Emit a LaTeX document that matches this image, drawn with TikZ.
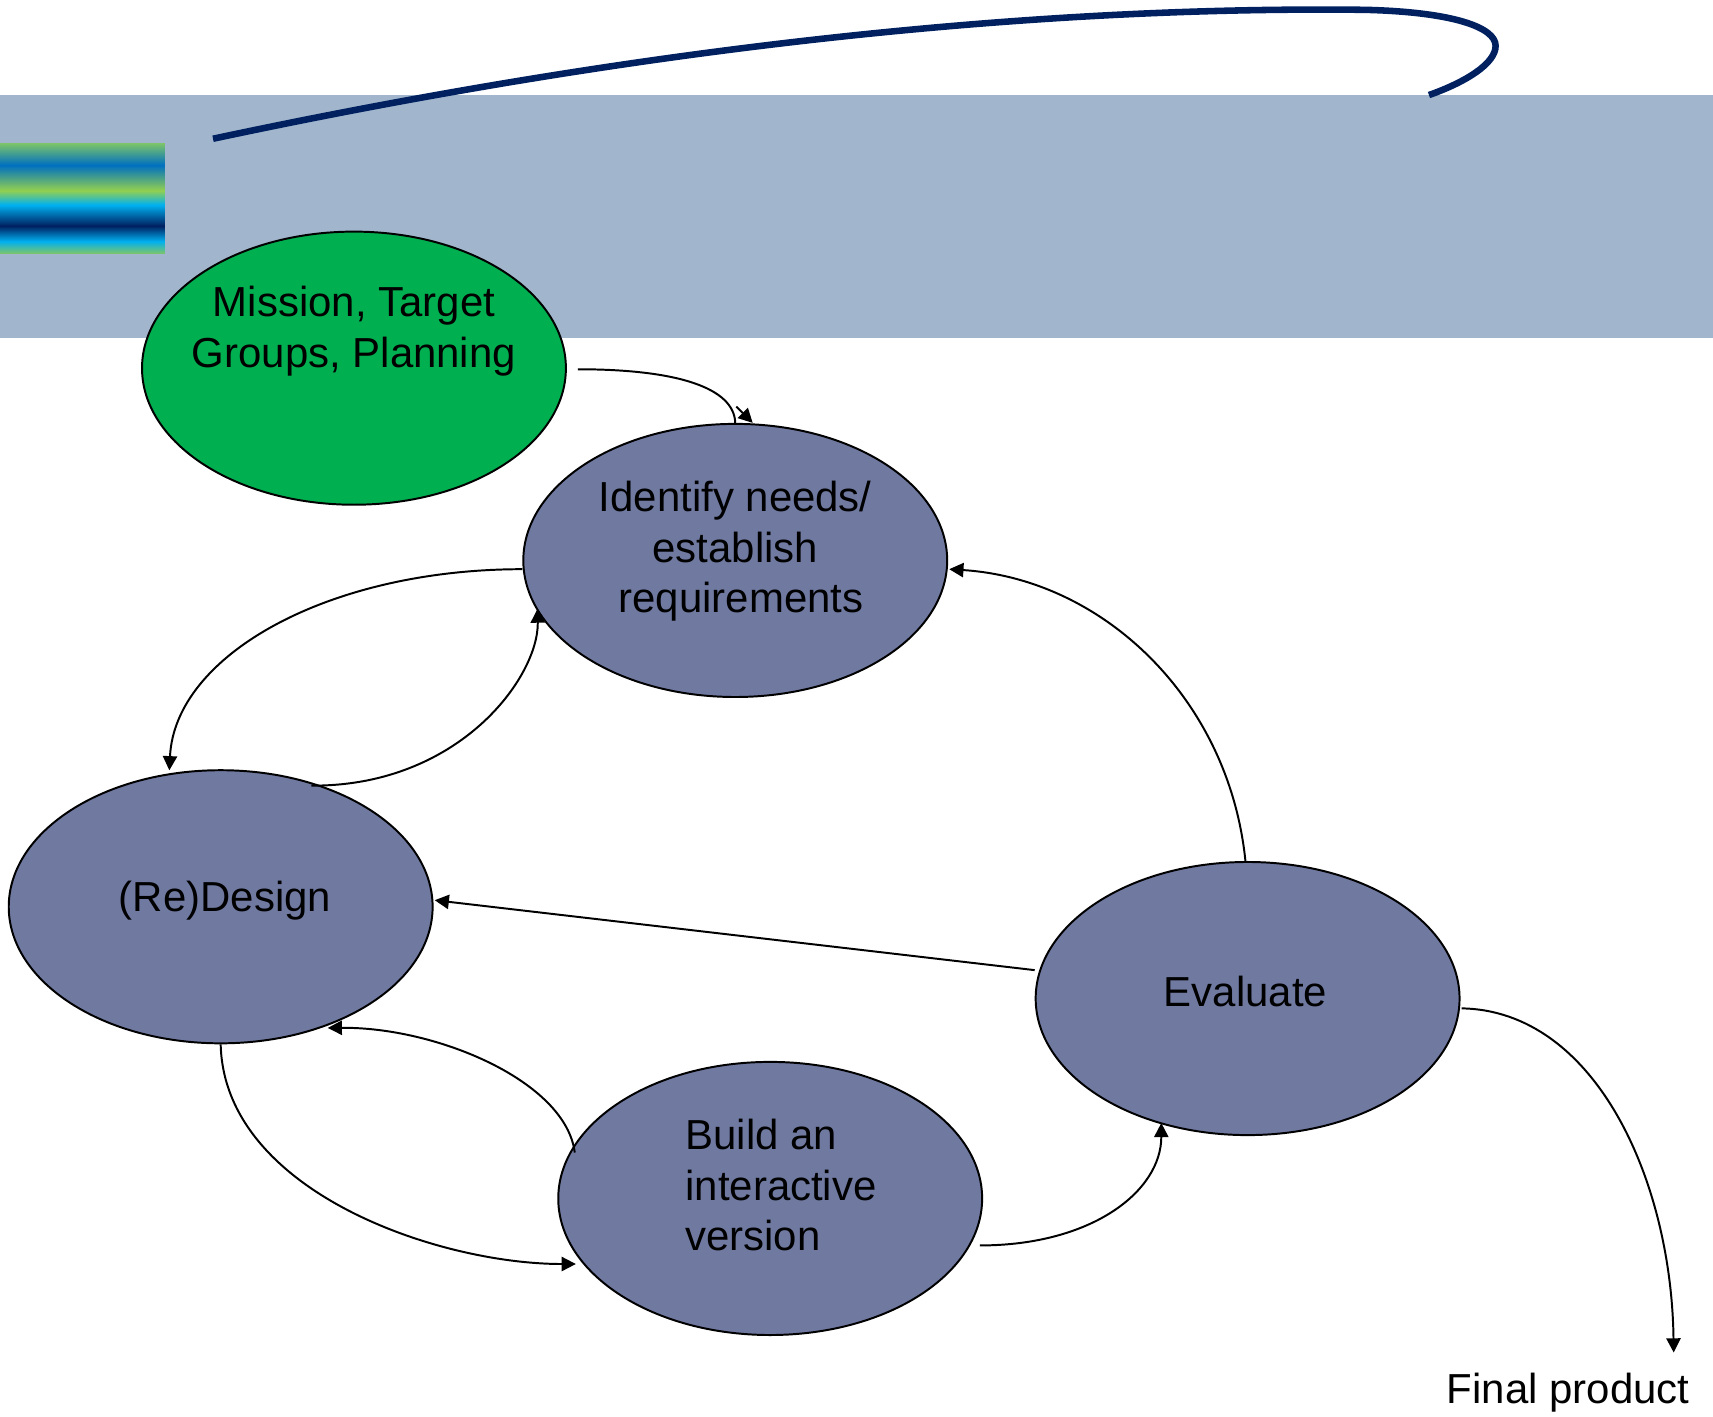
\documentclass[tikz,border=0pt]{standalone}
\usepackage{fontspec}
\setmainfont{Liberation Sans}
\usetikzlibrary{shapes.geometric,arrows.meta,calc}

\definecolor{bandblue}{RGB}{161,182,205}
\definecolor{stepgreen}{RGB}{0,176,80}
\definecolor{stepblue}{RGB}{112,122,161}
\definecolor{navy}{RGB}{0,32,96}
\definecolor{stripegreen}{RGB}{125,197,105}
\definecolor{stripeyg}{RGB}{146,208,80}
\definecolor{stripeblue}{RGB}{0,112,192}
\definecolor{stripecyan}{RGB}{0,176,240}

% horizontal colour stripes of the small logo bar (bottom to top)
\pgfdeclareverticalshading{stripes}{100bp}{%
  color(0bp)=(stripegreen); color(25bp)=(stripegreen);
  color(30.5bp)=(stripecyan); color(37.5bp)=(navy);
  color(47bp)=(stripecyan); color(53.5bp)=(stripeyg);
  color(65bp)=(stripeblue); color(75bp)=(stripegreen);
  color(100bp)=(stripegreen)}

\begin{document}
\begin{tikzpicture}[x=0.5pt,y=-0.5pt,
  stepnode/.style={ellipse, draw=black, line width=0.9pt, inner sep=0pt,
    minimum width=194pt, minimum height=125pt},
  lbl/.style={inner sep=0pt, font=\fontsize{19.2}{23.2}\selectfont, align=center},
  conn/.style={line width=0.9pt, -{Triangle[length=6.5pt,width=6.5pt]}}]

\useasboundingbox (0,0) rectangle (1568,1297);

% header band and logo stripes
\fill[bandblue] (0,87) rectangle (1568,309);
\shade[shading=stripes] (0,131) rectangle (151,232);

% swoosh across the header
\coordinate (swooshA) at (195,127);
\coordinate (swooshB) at (1308,87);
\draw[navy, line width=3pt] (swooshA) .. controls (650,30) and (1000,6) .. (1250,9)
  .. controls (1330,11) and (1369,25) .. (1369,42)
  .. controls (1369,58) and (1342,75) .. (swooshB);

% process steps
\node[stepnode, fill=stepgreen] (mission) at (324,337) {};
\node[stepnode, fill=stepblue] (identify) at (673,513) {};
\node[stepnode, fill=stepblue] (design) at (202,830) {};
\node[stepnode, fill=stepblue] (evaluate) at (1142,914) {};
\node[stepnode, fill=stepblue] (build) at (705,1097) {};

% step labels (base anchor of a multi-line label is its last baseline)
\node[lbl, anchor=base] (missiontext) at (324,336) {Mission, Target\\Groups, Planning};
\node[lbl, anchor=base] (identifytext) at (673,561) {Identify needs/\\establish\\\ requirements};
\node[lbl, anchor=base] (designtext) at (206,834) {(Re)Design};
\node[lbl, anchor=base] (evaluatetext) at (1140,921) {Evaluate};
\node[lbl, anchor=base west, align=left] (buildtext) at (627,1145) {Build an\\interactive\\version};
\node[lbl, anchor=base west] (final) at (1324,1285) {Final product};

% connectors
\draw[conn] ($(mission.east)+(10,1)$) .. controls (620,338) and (672,355) .. (identify.north)
  ($(identify.north)+(1,-15)$) -- ($(identify.north)+(16,0)$);
\draw[conn] ($(identify.west)+(0,8)$) .. controls (300,521) and (160,600) .. ($(design.north)+(-47,1)$);
\draw[conn] ($(design.north)+(83,15)$) .. controls (420,720) and (493,620) .. ($(identify.west)+(14,44)$);
\draw[conn] ($(evaluate.north)+(-2,0)$) .. controls (1125,640) and (1010,530) .. ($(identify.east)+(1,8)$);
\draw[conn] ($(evaluate.west)+(0,-26)$) -- ($(design.east)+(1,-6)$);
\draw[conn] (design.south) .. controls (205,1090) and (400,1157) .. ($(build.west)+(17,60)$);
\draw[conn] ($(build.west)+(16,-42)$) .. controls (518,990) and (400,940) .. ($(design.south)+(98,-15)$);
\draw[conn] ($(build.east)+(-3,43)$) .. controls (1000,1140) and (1063,1090) .. ($(evaluate.south)+(-79,-12)$);
\draw[conn] ($(evaluate.east)+(1,9)$) .. controls (1460,925) and (1530,1080) .. ($(final.base west)+(208,-47)$);

\end{tikzpicture}
\end{document}
